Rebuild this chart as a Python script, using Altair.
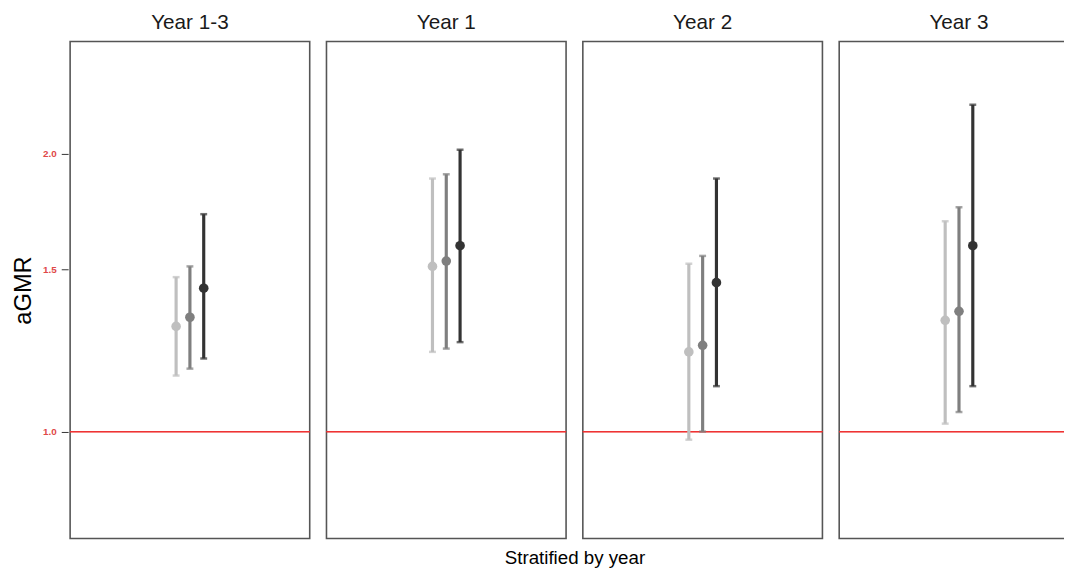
import altair as alt
import pandas as pd

# ---- data ----
years = ["Year 1-3", "Year 1", "Year 2", "Year 3"]
groups = ["Model 1", "Model 2", "Model 3"]
group_pos = [-1, 0, 1]
group_colors = ["#bfbfbf", "#7f7f7f", "#333333"]

est_year13 = [1.30, 1.33, 1.43]
est_year1 = [1.51, 1.53, 1.59]
est_year2 = [1.22, 1.24, 1.45]
est_year3 = [1.32, 1.35, 1.59]

lo_year13 = [1.15, 1.17, 1.20]
lo_year1 = [1.22, 1.23, 1.25]
lo_year2 = [0.98, 1.00, 1.12]
lo_year3 = [1.02, 1.05, 1.12]

hi_year13 = [1.47, 1.51, 1.72]
hi_year1 = [1.88, 1.90, 2.02]
hi_year2 = [1.52, 1.55, 1.88]
hi_year3 = [1.69, 1.75, 2.26]

y_ticks = [1.0, 1.5, 2.0]
ref_value = 1.0

est = [est_year13, est_year1, est_year2, est_year3]
lo = [lo_year13, lo_year1, lo_year2, lo_year3]
hi = [hi_year13, hi_year1, hi_year2, hi_year3]

rows = []
for yi, yr in enumerate(years):
    for gi, g in enumerate(groups):
        rows.append({"year": yr, "group": g, "pos": group_pos[gi],
                     "est": est[yi][gi], "lo": lo[yi][gi], "hi": hi[yi][gi]})
df = pd.DataFrame(rows)

FONT = "Liberation Sans"

xscale = alt.Scale(domain=[-8.68, 8.68], nice=False, zero=False)
yscale = alt.Scale(type="log", domain=[0.766, 2.646], nice=False)
yaxis = alt.Axis(values=y_ticks, format=".1f", title="aGMR")
color = alt.Color("group:N", scale=alt.Scale(domain=groups, range=group_colors), legend=None)

base = alt.Chart().encode(x=alt.X("pos:Q", scale=xscale, axis=None), color=color)

redline = alt.Chart().mark_rule(color="#ee3333", strokeWidth=1.2).encode(
    y=alt.datum(ref_value, scale=yscale, axis=yaxis)
)
bars = base.mark_rule(strokeWidth=3.2).encode(
    y=alt.Y("lo:Q", scale=yscale, axis=yaxis), y2="hi:Q"
)
cap_lo = base.mark_tick(orient="horizontal", size=7, thickness=2.5).encode(
    y=alt.Y("lo:Q", scale=yscale)
)
cap_hi = base.mark_tick(orient="horizontal", size=7, thickness=2.5).encode(
    y=alt.Y("hi:Q", scale=yscale)
)
points = base.mark_circle(size=95, opacity=1).encode(y=alt.Y("est:Q", scale=yscale))

layered = alt.layer(redline, bars, cap_lo, cap_hi, points).properties(width=243, height=504)

chart = layered.facet(
    column=alt.Column(
        "year:N", sort=years, title="Stratified by year",
        header=alt.Header(
            labelOrient="top", titleOrient="bottom",
            labelFont=FONT, labelFontSize=21, labelColor="#1a1a1a", labelPadding=8,
            titleFont=FONT, titleFontSize=19, titleFontWeight="normal",
            titleColor="#000000", titlePadding=0,
        ),
    ),
    data=df,
    spacing=13,
).configure_view(
    stroke="#555555", strokeWidth=1.6
).configure_axis(
    domain=False, grid=False, tickColor="#333333", tickSize=7, tickWidth=1,
    labelColor="#e04848", labelFontWeight="bold", labelFontSize=10, labelFont=FONT,
    labelPadding=5, titleFont=FONT, titleFontSize=24, titleFontWeight="normal",
    titleColor="#000000", titlePadding=7,
).properties(
    padding={"left": 4, "top": 0, "right": -17, "bottom": -2},
    background="white",
)

chart.save("out.html", embed_options={"renderer": "svg", "actions": False})
